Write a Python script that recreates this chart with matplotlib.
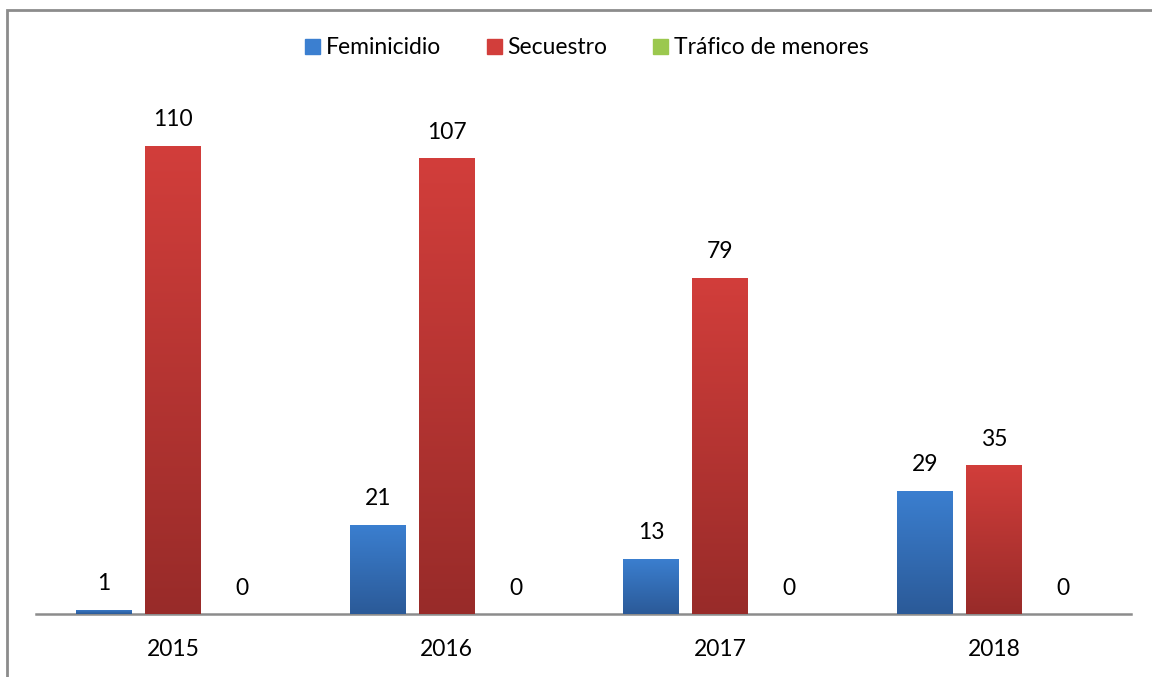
import matplotlib
matplotlib.use('Agg')
import matplotlib.pyplot as plt
import matplotlib.patches as mpatches
import numpy as np
from matplotlib.colors import LinearSegmentedColormap

years = ['2015', '2016', '2017', '2018']
series = ['Feminicidio', 'Secuestro', 'Tráfico de menores']
feminicidio = [1, 21, 13, 29]
secuestro = [110, 107, 79, 35]
trafico = [0, 0, 0, 0]
values = [feminicidio, secuestro, trafico]

# top / bottom colours of the gradient fills
grads = [('#3b7fd0', '#2b5a98'), ('#d23e3b', '#982b29'), ('#9bc84e', '#6f9a34')]

plt.rcParams['font.family'] = ['Lato', 'DejaVu Sans']

fig = plt.figure(figsize=(11.52, 6.77), dpi=100)
ax = fig.add_axes([36 / 1152, 63 / 677, (1131 - 36) / 1152, (613 - 102) / 677])

x = np.arange(len(years))
width = 0.204
step = 0.252

for i, (vals, (c_top, c_bot)) in enumerate(zip(values, grads)):
    pos = x + (i - 1) * step
    bars = ax.bar(pos, vals, width, color=c_top, zorder=2)
    cmap = LinearSegmentedColormap.from_list('g%d' % i, [c_bot, c_top])
    for b, v in zip(bars, vals):
        if v > 0:
            grad = np.linspace(0, 1, 256).reshape(-1, 1)
            im = ax.imshow(grad, cmap=cmap, aspect='auto', origin='lower',
                           extent=[b.get_x(), b.get_x() + b.get_width(), 0, v],
                           zorder=3)
            im.set_clip_path(b)
        ax.annotate(str(v), (b.get_x() + b.get_width() / 2, v),
                    xytext=(0, 11), textcoords='offset points',
                    ha='center', va='bottom', fontsize=16.5, color='black')

ax.set_xlim(-0.5, 3.5)
ax.set_ylim(0, 120)
ax.set_xticks(x)
ax.set_xticklabels(years, fontsize=16.5)
ax.tick_params(axis='x', length=0, pad=18)
ax.set_yticks([])
for s in ['top', 'right', 'left']:
    ax.spines[s].set_visible(False)
ax.spines['bottom'].set_color('#8c8c8c')
ax.spines['bottom'].set_linewidth(1.8)

handles = [mpatches.Patch(color=c[0]) for c in grads]
fig.legend(handles, series, loc='center', bbox_to_anchor=(587 / 1152, 1 - 48 / 677),
           ncol=3, frameon=False, fontsize=16.5, handlelength=0.65, handleheight=0.65,
           handletextpad=0.25, columnspacing=2.0)

# outer border of the chart area
border = mpatches.Rectangle((6.5 / 1152, -0.1), 1.2, 1 - 9.5 / 677 + 0.1,
                            transform=fig.transFigure, fill=False,
                            edgecolor='#8c8c8c', linewidth=2)
fig.patches.append(border)

fig.savefig('out.png', dpi=100)
